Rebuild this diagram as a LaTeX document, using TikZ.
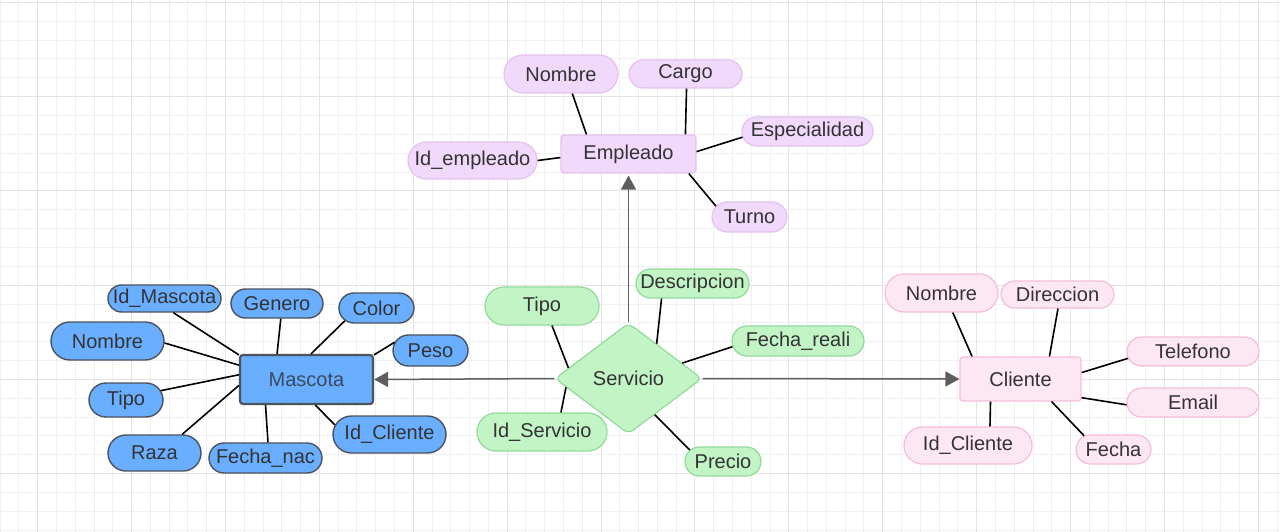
\documentclass[tikz,border=0pt]{standalone}
\usepackage{fontspec}
\setmainfont{Liberation Sans}
\usetikzlibrary{shapes.geometric, shapes.misc, arrows.meta}

\definecolor{azul}{HTML}{6AAEFF}
\definecolor{azulborde}{HTML}{4B535C}
\definecolor{azultexto}{HTML}{3B4A60}
\definecolor{lila}{HTML}{F1D9FB}
\definecolor{lilaborde}{HTML}{E3C2F1}
\definecolor{rosa}{HTML}{FDE7F3}
\definecolor{rosaborde}{HTML}{F5BDD9}
\definecolor{verde}{HTML}{C3F4C6}
\definecolor{verdeborde}{HTML}{92DA9A}
\definecolor{flecha}{HTML}{5E5E5E}
\definecolor{texto}{HTML}{333333}
\definecolor{malla}{HTML}{F0F0F0}
\definecolor{mallab}{HTML}{E3E3E3}

\tikzset{
  attr/.style={rounded rectangle, inner sep=0pt, text=texto, font=\fontsize{20}{23}\selectfont},
  mattr/.style={attr, fill=azul, draw=azulborde, line width=1.4pt},
  eattr/.style={attr, fill=lila, draw=lilaborde, line width=1.2pt},
  sattr/.style={attr, fill=verde, draw=verdeborde, line width=1.2pt},
  cattr/.style={attr, fill=rosa, draw=rosaborde, line width=1.2pt},
  entidad/.style={rectangle, rounded corners=3pt, inner sep=0pt, text=texto, font=\fontsize{20}{23}\selectfont},
  enlace/.style={line width=1.6pt, black},
  relacion/.style={line width=1.5pt, flecha, -{Triangle[length=14pt, width=15pt]}}
}

\begin{document}
\begin{tikzpicture}[x=1pt, y=-1pt]
		\useasboundingbox (0,0) rectangle (1280,532);
		\fill[white] (0,0) rectangle (1280,532);
		% grid
		\foreach \i in {0,...,68} \draw[malla, line width=0.8pt] (\i*18.78,0) -- (\i*18.78,532);
		\foreach \j in {0,...,28} \draw[malla, line width=0.8pt] (0,2.3+\j*18.85) -- (1280,2.3+\j*18.85);
		\foreach \i in {2,7,...,67} \draw[mallab, line width=0.8pt] (\i*18.78,0) -- (\i*18.78,532);
		\foreach \j in {0,5,...,25} \draw[mallab, line width=0.8pt] (0,2.3+\j*18.85) -- (1280,2.3+\j*18.85);

		% Mascota
		\node[entidad, fill=azul, draw=azulborde, line width=2.2pt, text=azultexto, minimum width=133pt, minimum height=49pt] (masc) at (306.5,379.5) {Mascota};
		\node[mattr, minimum width=113pt, minimum height=27pt] (mId) at (164.5,298.5) {Id\_Mascota};
		\node[mattr, minimum width=92pt, minimum height=29pt] (mGen) at (277,303.5) {Genero};
		\node[mattr, minimum width=75pt, minimum height=30pt] (mCol) at (376.5,308) {Color};
		\node[mattr, minimum width=113pt, minimum height=38pt] (mNom) at (107.5,341) {Nombre};
		\node[mattr, minimum width=75pt, minimum height=31pt] (mPeso) at (430.5,350.5) {Peso};
		\node[mattr, minimum width=74pt, minimum height=34pt] (mTipo) at (126,400) {Tipo};
		\node[mattr, minimum width=93pt, minimum height=36pt] (mRaza) at (154.5,453) {Raza};
		\node[mattr, minimum width=113pt, minimum height=30pt] (mFecha) at (265.5,458) {Fecha\_nac};
		\node[mattr, minimum width=113pt, minimum height=37pt] (mIdC) at (389.5,434.5) {Id\_Cliente};

		% Empleado
		\node[entidad, fill=lila, draw=lilaborde, line width=1.2pt, minimum width=135pt, minimum height=38pt] (emp) at (628.5,154) {Empleado};
		\node[eattr, minimum width=114pt, minimum height=38pt] (eNom) at (561,74) {Nombre};
		\node[eattr, minimum width=113pt, minimum height=28pt] (eCargo) at (685.5,74) {Cargo};
		\node[eattr, minimum width=131pt, minimum height=29pt] (eEsp) at (807.5,131.5) {Especialidad};
		\node[eattr, minimum width=129pt, minimum height=37pt] (eId) at (472.5,160.5) {Id\_empleado};
		\node[eattr, minimum width=75pt, minimum height=30pt] (eTurno) at (749.5,217) {Turno};

		% Servicio
		\node[diamond, rounded corners=6pt, fill=verde, draw=verdeborde, line width=1.2pt, inner sep=0pt, text=texto, font=\fontsize{20}{23}\selectfont, minimum width=147pt, minimum height=111pt] (serv) at (628.5,378.5) {Servicio};
		\node[sattr, minimum width=113pt, minimum height=29pt] (sDesc) at (692.5,283.5) {Descripcion};
		\node[sattr, minimum width=114pt, minimum height=38pt] (sTipo) at (542,306) {Tipo};
		\node[sattr, minimum width=132pt, minimum height=30pt] (sFecha) at (798,341) {Fecha\_reali};
		\node[sattr, minimum width=130pt, minimum height=38pt] (sId) at (542,432) {Id\_Servicio};
		\node[sattr, minimum width=76pt, minimum height=29pt] (sPrecio) at (723,461.5) {Precio};

		% Cliente
		\node[entidad, fill=rosa, draw=rosaborde, line width=1.2pt, minimum width=121pt, minimum height=44pt] (cli) at (1020.5,379) {Cliente};
		\node[cattr, minimum width=113pt, minimum height=38pt] (cNom) at (941.5,293) {Nombre};
		\node[cattr, minimum width=113pt, minimum height=27pt] (cDir) at (1057.5,294.5) {Direccion};
		\node[cattr, minimum width=132pt, minimum height=29pt] (cTel) at (1193,351.5) {Telefono};
		\node[cattr, minimum width=132pt, minimum height=29pt] (cEmail) at (1193,402.5) {Email};
		\node[cattr, minimum width=128pt, minimum height=37pt] (cId) at (968,445.5) {Id\_Cliente};
		\node[cattr, minimum width=75pt, minimum height=29pt] (cFecha) at (1113.5,449.5) {Fecha};

		% relaciones
		\draw[relacion] (serv.west) -- (masc.east);
		\draw[relacion] (serv.east) -- (cli.west);
		\draw[relacion] (serv.north) -- ([yshift=-2pt]emp.south);

		% atributos
		\draw[enlace] (mId.302) -- (masc.160);
		\draw[enlace] (mGen.284) -- (masc.139);
		\draw[enlace] (mCol.202) -- (masc.80);
		\draw[enlace] (mNom.358) -- (masc.168);
		\draw[enlace] (mPeso.167) -- (masc.20);
		\draw[enlace] (mTipo.15) -- (masc.176);
		\draw[enlace] (mRaza.34) -- (masc.185);
		\draw[enlace] (mFecha.81) -- (masc.212);
		\draw[enlace] (mIdC.170) -- (masc.289);

		\draw[enlace] (eNom.300) -- (emp.155);
		\draw[enlace] (eCargo.274) -- (emp.19);
		\draw[enlace] (eEsp.185) -- (emp.2);
		\draw[enlace] (eId.0) -- (emp.183);
		\draw[enlace] (eTurno.162) -- (emp.342);

		\draw[enlace] (sTipo.297) -- (serv.170);
		\draw[enlace] (sDesc.206) -- (serv.51);
		\draw[enlace] (sFecha.185) -- (serv.16);
		\draw[enlace] (sId.46) -- (serv.188);
		\draw[enlace] (sPrecio.161) -- (serv.306);

		\draw[enlace] (cNom.300) -- (cli.155);
		\draw[enlace] (cDir.272) -- (cli.38);
		\draw[enlace] (cTel.186) -- (cli.6);
		\draw[enlace] (cEmail.182) -- (cli.343);
		\draw[enlace] (cId.41) -- (cli.217);
		\draw[enlace] (cFecha.155) -- (cli.324);
		\end{tikzpicture}
\end{document}
